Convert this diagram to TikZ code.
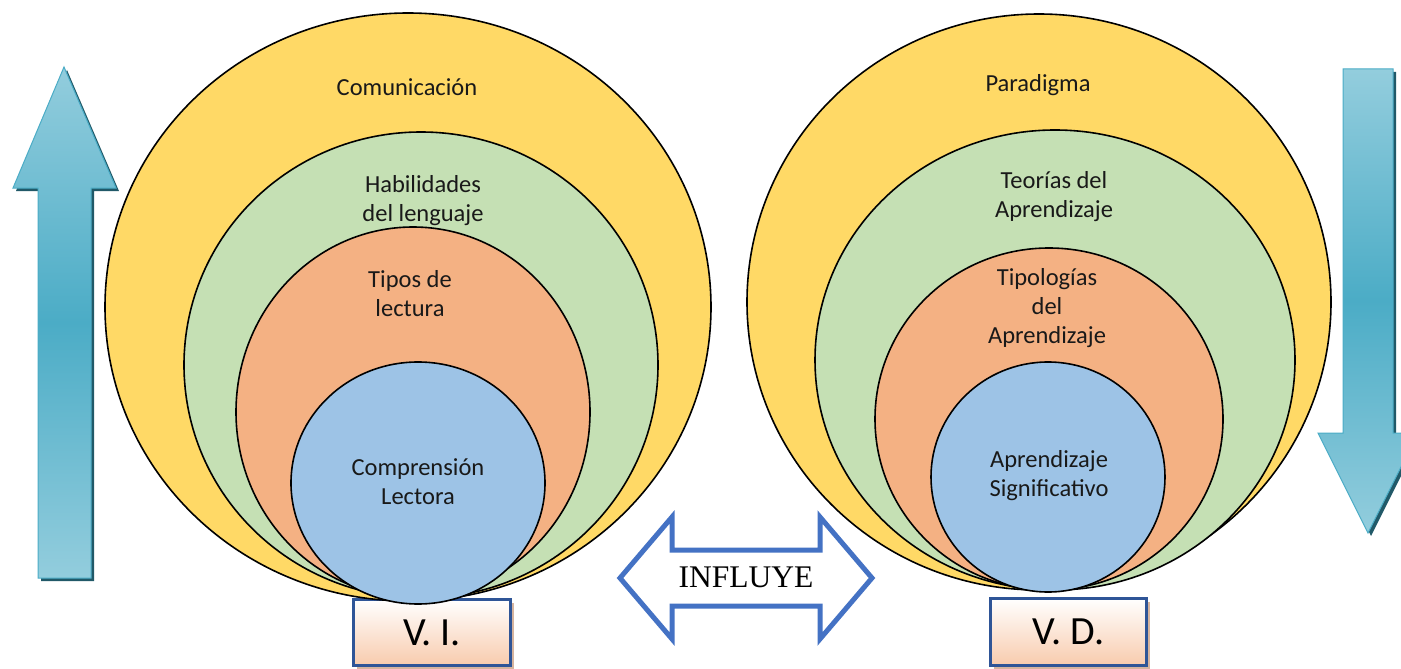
\documentclass[tikz,border=0pt]{standalone}
\usepackage{fontspec}
\setmainfont{Carlito}
\newfontfamily\timesfont{Liberation Serif}
\usepackage{tikz}
\usetikzlibrary{shadows}
\definecolor{ringYellow}{HTML}{FFD966}
\definecolor{ringGreen}{HTML}{C5E0B4}
\definecolor{ringOrange}{HTML}{F4B183}
\definecolor{ringBlue}{HTML}{9DC3E6}
\definecolor{arrowLight}{HTML}{93CDDD}
\definecolor{arrowDark}{HTML}{4BACC6}
\definecolor{arrowShadow}{HTML}{215968}
\definecolor{boxLine}{HTML}{2F5597}
\definecolor{boxPeach}{HTML}{F8CBAD}
\definecolor{boxShadow}{HTML}{D6B49E}
\definecolor{influLine}{HTML}{4472C4}

\begin{document}
\begin{tikzpicture}[x=1pt,y=-1pt,
  ring/.style={draw=black,line width=1.6pt},
  ringtext/.style={font=\fontsize{24.5}{29}\selectfont,align=center,text=black!90},
  bigarrow/.style={draw=arrowDark,line width=1pt,top color=arrowLight,bottom color=arrowLight,middle color=arrowDark},
  varbox/.style={draw=boxLine,line width=3pt,top color=white,bottom color=boxPeach,
    minimum width=157pt,minimum height=66pt,inner sep=0pt,font=\fontsize{40}{48}\selectfont,
    drop shadow={shadow xshift=3pt,shadow yshift=-3pt,fill=boxShadow,opacity=1}}]
            \path[use as bounding box] (0,0) rectangle (1401,669);
            \clip (0,0) rectangle (1401,669);
            % flechas laterales
            \fill [arrowShadow,shift={(3,3)}] (64,67)--(116,188)--(91,188)--(91,578)--(38,578)--(38,188)--(13,188)--cycle;
            \path [bigarrow] (64,67)--(116,188)--(91,188)--(91,578)--(38,578)--(38,188)--(13,188)--cycle;
            \fill [arrowShadow,shift={(3,3)}] (1343,69)--(1393,69)--(1393,433)--(1418,433)--(1368,533)--(1318,433)--(1343,433)--cycle;
            \path [bigarrow] (1343,69)--(1393,69)--(1393,433)--(1418,433)--(1368,533)--(1318,433)--(1343,433)--cycle;
            % variables
            \node [varbox] (vi) at (432,632.5) {V. I.};
            \node [varbox,minimum width=156pt,minimum height=67pt] (vd) at (1068.5,632) {V. D.};
            % variable independiente
            \filldraw [ring,fill=ringYellow] (408,307) ellipse [x radius=303pt,y radius=294pt];
            \filldraw [ring,fill=ringGreen] (421,365) ellipse [x radius=237pt,y radius=233pt];
            \filldraw [ring,fill=ringOrange] (413,412) ellipse [x radius=177pt,y radius=185pt];
            \filldraw [ring,fill=ringBlue] (418,483) ellipse [x radius=127pt,y radius=121pt];
            \node [ringtext] (comunicacion) at (407,87) {Comunicación};
            \node [ringtext] (habilidades) at (423,201) {Habilidades\\del lenguaje};
            \node [ringtext] (tipos) at (410,294) {Tipos de\\lectura};
            \node [ringtext] (comprension) at (418,482) {Comprensión\\Lectora};
            % variable dependiente
            \filldraw [ring,fill=ringYellow] (1039,302) ellipse [x radius=292pt,y radius=288pt];
            \filldraw [ring,fill=ringGreen] (1055,360) ellipse [x radius=240pt,y radius=230pt];
            \filldraw [ring,fill=ringOrange] (1049,419) ellipse [x radius=174pt,y radius=171pt];
            \filldraw [ring,fill=ringBlue] (1048,477) ellipse [x radius=117pt,y radius=115pt];
            \node [ringtext] (paradigma) at (1038,85) {Paradigma};
            \node [ringtext] (teorias) at (1054,197) {Teorías del\\Aprendizaje};
            \node [ringtext] (tipologias) at (1047,308) {Tipologías\\del\\Aprendizaje};
            \node [ringtext] (significativo) at (1049,476) {Aprendizaje\\Significativo};
            % influye
            \filldraw [draw=influLine,fill=white,line width=5pt] (620,578)--(672,517)--(672,550)--(820,550)--(820,517)--(872,578)--(820,639)--(820,606)--(672,606)--(672,639)--cycle;
            \node [font=\timesfont\fontsize{31.5}{36}\selectfont] (influye) at (746,577) {INFLUYE};
\end{tikzpicture}
\end{document}
